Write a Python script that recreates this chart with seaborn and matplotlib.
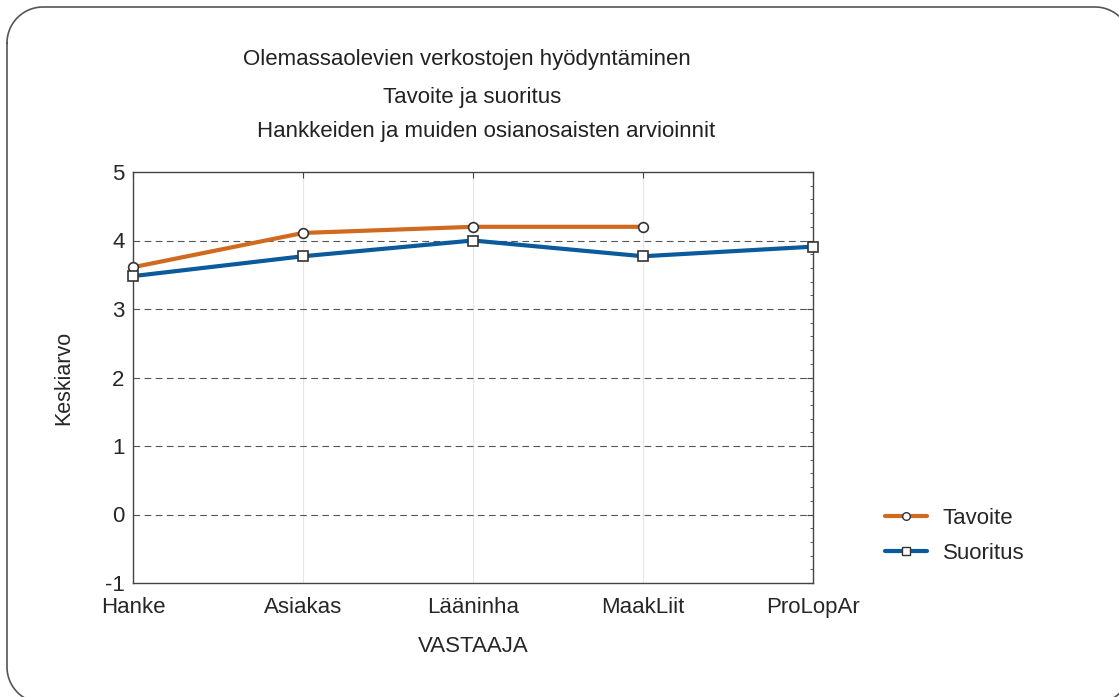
import numpy as np
import pandas as pd
import seaborn as sns
import matplotlib
matplotlib.use("Agg")
import matplotlib.pyplot as plt
from matplotlib.lines import Line2D
from matplotlib.ticker import MultipleLocator

categories = ["Hanke", "Asiakas", "Lääninha", "MaakLiit", "ProLopAr"]
tavoite = [3.61, 4.11, 4.20, 4.20, np.nan]
suoritus = [3.48, 3.77, 4.00, 3.77, 3.91]
series_names = ["Tavoite", "Suoritus"]
title_lines = ["Olemassaolevien verkostojen hyödyntäminen",
               "Tavoite ja suoritus",
               "Hankkeiden ja muiden osianosaisten arvioinnit"]

df = pd.DataFrame({
    "VASTAAJA": categories * 2,
    "Keskiarvo": tavoite + suoritus,
    "Sarja": [series_names[0]] * 5 + [series_names[1]] * 5,
})
df["pos"] = list(range(5)) * 2

sns.set_style("white")
plt.rcParams["font.family"] = ["Liberation Sans", "DejaVu Sans"]
plt.rcParams["axes.unicode_minus"] = False

W, H = 1119, 697
fig = plt.figure(figsize=(W/100, H/100), dpi=100)
ax = fig.add_axes([133/W, 1-583/H, (813-133)/W, (583-172)/H])

palette = {"Tavoite": "#CF6A1E", "Suoritus": "#0A5A9C"}
markers = {"Tavoite": "o", "Suoritus": "s"}
sns.lineplot(data=df.dropna(), x="pos", y="Keskiarvo", hue="Sarja", style="Sarja",
             palette=palette, markers=markers, dashes=False, linewidth=3,
             markersize=7, markerfacecolor="white", markeredgecolor="#333333",
             markeredgewidth=1.2, ax=ax, legend=True, zorder=3, clip_on=False)

ax.set_xlim(0, 4)
ax.set_ylim(-1, 5)
ax.set_xticks(range(5))
ax.set_xticklabels(categories, fontsize=16)
ax.yaxis.set_major_locator(MultipleLocator(1))
ax.yaxis.set_minor_locator(MultipleLocator(0.2))
ax.tick_params(axis="y", labelsize=16, pad=6)
ax.tick_params(which="both", direction="in", top=True, right=True, length=4, color="#444444")
ax.tick_params(which="minor", length=2.5)
ax.tick_params(axis="x", pad=10)
for s in ax.spines.values():
    s.set_color("#444444")
    s.set_linewidth(1)
for yv in range(0, 5):
    ax.axhline(yv, color="#555555", linestyle=(0, (6, 4)), linewidth=0.8, zorder=1)
for xv in range(1, 4):
    ax.axvline(xv, color="#e6e6e6", linewidth=0.8, zorder=0)

ax.set_xlabel("VASTAAJA", fontsize=16, labelpad=13)
ax.set_ylabel("Keskiarvo", fontsize=15.5, labelpad=22)

ys = [60, 98, 131]
xs = [467, 472, 486]
for t, xx, yy in zip(title_lines, xs, ys):
    fig.text(xx/W, 1-yy/H, t, ha="center", va="center", fontsize=16, color="#222222")

h, l = ax.get_legend_handles_labels()
ax.get_legend().remove()
leg = fig.legend(h, l, loc="center left", bbox_to_anchor=(865/W, 1-536/H), frameon=False,
                 fontsize=16, handlelength=1.9, labelspacing=0.65, handletextpad=0.7)
for lh in leg.legend_handles:
    lh.set_markersize(5.5)
    lh.set_markeredgewidth(1.0)

# rounded page frame (image pixel coords, y downward), converted to figure fraction
x0, x1, y0, y1, r = 7.0, 1131.0, 7.0, 703.0, 36.0
def arc(cx, cy, a0, a1, n=30):
    t = np.linspace(np.radians(a0), np.radians(a1), n)
    return cx + r*np.cos(t), cy + r*np.sin(t)
pts_x, pts_y = [], []
for (cx, cy, a0, a1) in [(x0+r, y0+r, 180, 270), (x1-r, y0+r, 270, 360),
                         (x1-r, y1-r, 0, 90), (x0+r, y1-r, 90, 180)]:
    ax_, ay_ = arc(cx, cy, a0, a1)
    pts_x.extend(ax_); pts_y.extend(ay_)
pts_x.append(pts_x[0]); pts_y.append(pts_y[0])
fx = np.array(pts_x)/W
fy = 1 - np.array(pts_y)/H
fig.add_artist(Line2D(fx, fy, transform=fig.transFigure, color="#555555", linewidth=1.2))

fig.savefig("out.png", dpi=100)
